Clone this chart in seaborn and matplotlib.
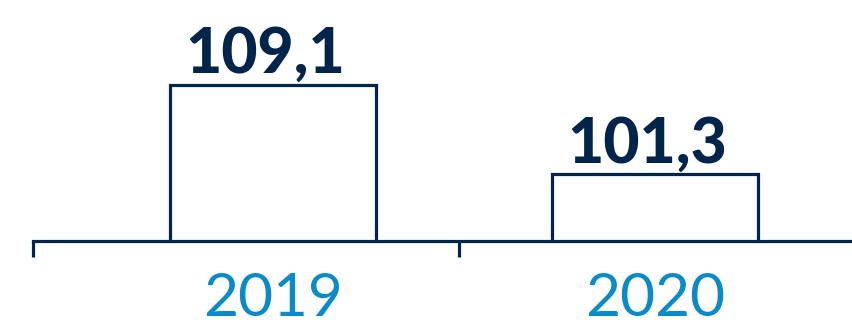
import matplotlib
matplotlib.use("Agg")
import matplotlib.pyplot as plt
import seaborn as sns
import pandas as pd

years = ["2019", "2020"]
values = [109.1, 101.3]
value_labels = ["109,1", "101,3"]

NAVY = "#00244a"
BLUE = "#0a8ac8"

sns.set_theme(style="white")
plt.rcParams['font.family'] = ['Lato', 'DejaVu Sans']

fig = plt.figure(figsize=(8.52, 3.23), dpi=100)
ax = fig.add_axes([33/852, (323-240.5)/323, 1 - 33/852, 240.5/323])

df = pd.DataFrame({"year": years, "value": values})
sns.barplot(data=df, x="year", y="value", ax=ax, color="white",
            edgecolor=NAVY, linewidth=2.3, width=0.54, saturation=1)

ax.set_xlim(-0.628, 1.516)
ax.set_ylim(95.55, 116.5)

for i, (v, lab) in enumerate(zip(values, value_labels)):
    ax.text(i - 0.02, v + 1.05, lab, ha="center", va="baseline",
            fontsize=45, fontweight="black", color=NAVY)

for s in ["left", "right", "top"]:
    ax.spines[s].set_visible(False)
ax.spines["bottom"].set_color(NAVY)
ax.spines["bottom"].set_linewidth(2.3)
ax.set_yticks([])
ax.set_xlabel("")
ax.set_ylabel("")
ax.tick_params(axis="x", which="major", length=0, pad=23, labelsize=43.5,
               labelcolor=BLUE)
ax.set_xticks([-0.628, 0.487], minor=True)
ax.tick_params(axis="x", which="minor", length=11.5, width=2.3, color=NAVY,
               direction="out", bottom=True)

fig.savefig("out.png", dpi=100)
